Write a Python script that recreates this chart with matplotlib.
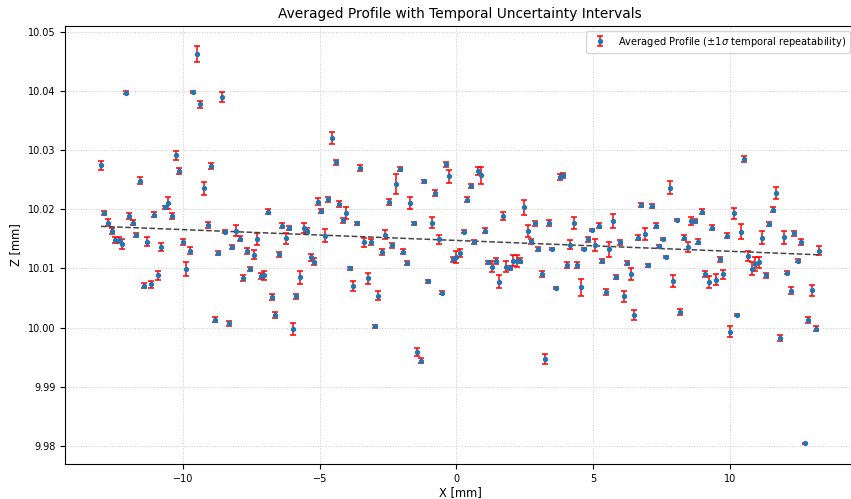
import numpy as np
import matplotlib
matplotlib.use("Agg")
import matplotlib.pyplot as plt

# sample grid along the profile (203 points, 0.13 mm pitch)
x_first = -13.0
x_last = 13.26
n_points = 203

# averaged height per sample [mm]
z_mean = [
    10.0274, 10.0194, 10.0177, 10.0163, 10.0148, 10.0148, 10.0141, 10.0397, 10.0189, 10.0177,
    10.0156, 10.0248, 10.0071, 10.0145, 10.0073, 10.0191, 10.0088, 10.0136, 10.0203, 10.0210,
    10.0189, 10.0291, 10.0264, 10.0145, 10.0099, 10.0130, 10.0398, 10.0462, 10.0377, 10.0235,
    10.0174, 10.0273, 10.0013, 10.0126, 10.0390, 10.0162, 10.0007, 10.0136, 10.0164, 10.0150,
    10.0084, 10.0130, 10.0099, 10.0123, 10.0149, 10.0087, 10.0088, 10.0196, 10.0052, 10.0021,
    10.0124, 10.0172, 10.0151, 10.0168, 9.9998, 10.0053, 10.0085, 10.0168, 10.0164, 10.0119,
    10.0111, 10.0213, 10.0197, 10.0155, 10.0217, 10.0320, 10.0279, 10.0209, 10.0181, 10.0193,
    10.0100, 10.0070, 10.0176, 10.0269, 10.0144, 10.0083, 10.0144, 10.0002, 10.0054, 10.0128,
    10.0157, 10.0212, 10.0139, 10.0242, 10.0268, 10.0128, 10.0109, 10.0211, 10.0176, 9.9959,
    9.9944, 10.0247, 10.0078, 10.0177, 10.0227, 10.0149, 10.0059, 10.0276, 10.0256, 10.0115,
    10.0119, 10.0126, 10.0162, 10.0216, 10.0239, 10.0145, 10.0265, 10.0257, 10.0164, 10.0110,
    10.0103, 10.0113, 10.0077, 10.0188, 10.0103, 10.0101, 10.0113, 10.0113, 10.0113, 10.0203,
    10.0163, 10.0146, 10.0176, 10.0133, 10.0090, 9.9947, 10.0176, 10.0133, 10.0067, 10.0255,
    10.0257, 10.0106, 10.0140, 10.0177, 10.0105, 10.0068, 10.0133, 10.0149, 10.0165, 10.0140,
    10.0172, 10.0112, 10.0060, 10.0132, 10.0180, 10.0085, 10.0144, 10.0053, 10.0109, 10.0091,
    10.0021, 10.0152, 10.0207, 10.0158, 10.0105, 10.0205, 10.0172, 10.0137, 10.0150, 10.0119,
    10.0236, 10.0079, 10.0182, 10.0027, 10.0152, 10.0136, 10.0180, 10.0180, 10.0145, 10.0196,
    10.0091, 10.0077, 10.0169, 10.0081, 10.0115, 10.0090, 10.0155, 9.9993, 10.0193, 10.0021,
    10.0162, 10.0285, 10.0121, 10.0099, 10.0108, 10.0110, 10.0152, 10.0088, 10.0175, 10.0199,
    10.0227, 9.9982, 10.0153, 10.0093, 10.0062, 10.0159, 10.0113, 10.0145, 9.9804, 10.0013,
    10.0063, 9.9998, 10.0130,
]

# temporal repeatability, 1 sigma [mm]
z_std = [
    0.0007, 0.0003, 0.0006, 0.0005, 0.0005, 0.0005, 0.0008, 0.0003, 0.0005, 0.0004,
    0.0003, 0.0006, 0.0004, 0.0008, 0.0006, 0.0004, 0.0008, 0.0007, 0.0003, 0.0010,
    0.0005, 0.0008, 0.0005, 0.0005, 0.0012, 0.0006, 0.0001, 0.0014, 0.0006, 0.0011,
    0.0005, 0.0005, 0.0004, 0.0003, 0.0008, 0.0003, 0.0004, 0.0004, 0.0009, 0.0004,
    0.0005, 0.0005, 0.0004, 0.0008, 0.0010, 0.0005, 0.0008, 0.0004, 0.0005, 0.0005,
    0.0004, 0.0004, 0.0009, 0.0003, 0.0010, 0.0004, 0.0011, 0.0009, 0.0005, 0.0006,
    0.0006, 0.0006, 0.0003, 0.0011, 0.0004, 0.0010, 0.0004, 0.0005, 0.0004, 0.0010,
    0.0002, 0.0008, 0.0003, 0.0005, 0.0008, 0.0009, 0.0005, 0.0003, 0.0008, 0.0005,
    0.0008, 0.0005, 0.0004, 0.0017, 0.0003, 0.0004, 0.0003, 0.0010, 0.0002, 0.0007,
    0.0004, 0.0003, 0.0003, 0.0009, 0.0005, 0.0008, 0.0003, 0.0004, 0.0011, 0.0004,
    0.0010, 0.0006, 0.0003, 0.0004, 0.0004, 0.0003, 0.0007, 0.0014, 0.0004, 0.0003,
    0.0009, 0.0005, 0.0011, 0.0007, 0.0009, 0.0003, 0.0009, 0.0010, 0.0004, 0.0012,
    0.0010, 0.0004, 0.0004, 0.0003, 0.0005, 0.0009, 0.0005, 0.0002, 0.0002, 0.0005,
    0.0005, 0.0005, 0.0008, 0.0010, 0.0005, 0.0014, 0.0002, 0.0004, 0.0002, 0.0010,
    0.0004, 0.0003, 0.0005, 0.0012, 0.0012, 0.0003, 0.0004, 0.0009, 0.0004, 0.0010,
    0.0009, 0.0004, 0.0003, 0.0010, 0.0003, 0.0003, 0.0004, 0.0002, 0.0002, 0.0002,
    0.0011, 0.0010, 0.0002, 0.0005, 0.0004, 0.0009, 0.0007, 0.0004, 0.0004, 0.0004,
    0.0005, 0.0010, 0.0004, 0.0009, 0.0005, 0.0008, 0.0004, 0.0009, 0.0009, 0.0002,
    0.0013, 0.0005, 0.0009, 0.0011, 0.0012, 0.0009, 0.0011, 0.0004, 0.0004, 0.0004,
    0.0010, 0.0005, 0.0011, 0.0003, 0.0006, 0.0004, 0.0002, 0.0005, 0.0001, 0.0005,
    0.0009, 0.0004, 0.0007,
]

# linear trend of the profile: Z = slope * X + offset
trend_slope = -0.000183
trend_offset = 10.01472

x = np.linspace(x_first, x_last, n_points)
z = np.array(z_mean)
s = np.array(z_std)

fig, ax = plt.subplots(figsize=(8.51, 4.99), dpi=100)
fig.subplots_adjust(left=65/851, right=855/851, top=1-26/499, bottom=1-464/499)

ax.errorbar(x, z, yerr=s, fmt='o', color='tab:blue', markersize=2.8,
            ecolor='red', elinewidth=1.1, capsize=1.9, capthick=1.1,
            label=r'Averaged Profile ($\pm 1\sigma$ temporal repeatability)')

ax.plot(x, trend_slope*x + trend_offset, '--', color='#444444', linewidth=1.1)

ax.set_title('Averaged Profile with Temporal Uncertainty Intervals', fontsize=9.9)
ax.set_xlabel('X [mm]', fontsize=8.3, labelpad=1.5)
ax.set_ylabel('Z [mm]', fontsize=8.3)
ax.tick_params(labelsize=7)
ax.grid(True, linestyle=':', color='#cccccc', linewidth=0.7)
ax.legend(loc='upper right', fontsize=7.1)

fig.savefig('out.png', dpi=100)
